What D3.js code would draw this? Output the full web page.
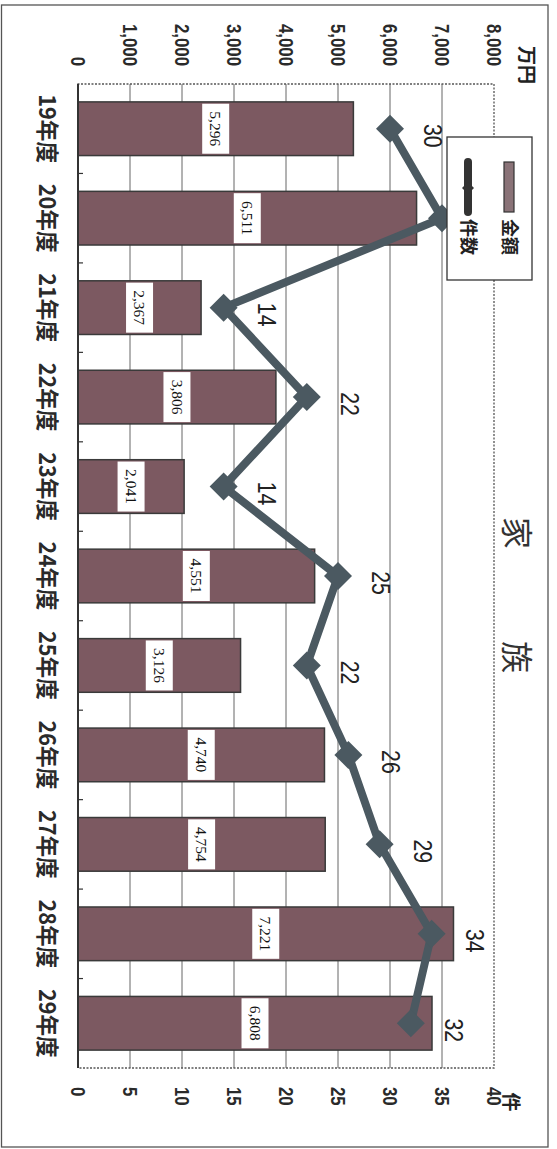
<!DOCTYPE html>
<html><head><meta charset="utf-8">
<script src="https://cdn.jsdelivr.net/npm/d3@7"></script>
<style>
html,body{margin:0;padding:0;background:#fff;}
svg{display:block;}
</style></head>
<body>
<svg id="chart" width="557" height="1149"></svg>
<script>
const categories = ["19年度","20年度","21年度","22年度","23年度","24年度","25年度","26年度","27年度","28年度","29年度"];
const amounts = [5296, 6511, 2367, 3806, 2041, 4551, 3126, 4740, 4754, 7221, 6808];
const counts = [30, 35, 14, 22, 14, 25, 22, 26, 29, 34, 32];
const amountTicks = [0,1000,2000,3000,4000,5000,6000,7000,8000];
const countTicks = [0,5,10,15,20,25,30,35,40];
const seriesNames = ["金額","件数"];
const titleChars = ["家","族"];
const amountUnit = "万円";
const countUnit = "件";

const BAR = "#7c5961", LINE = "#4b5961", INK = "#222";
const svg = d3.select("#chart");

// outer scan frame
svg.append("rect").attr("x",1.5).attr("y",5).attr("width",546.5).attr("height",1142)
  .attr("fill","none").attr("stroke","#555").attr("stroke-width",1.3);

// chart drawn unrotated (1149 x 557), then rotated 90° clockwise
const g = svg.append("g").attr("transform","translate(557,0) rotate(90)");

const L = 84, R = 1068, T = 63, B = 479;
const x = d3.scaleBand().domain(categories).range([L,R]).paddingInner(0.4).paddingOuter(0.2);
const yA = d3.scaleLinear().domain([0,8000]).range([B,T]);
const yC = d3.scaleLinear().domain([0,40]).range([B,T]);

function squeeze(sel,k){
  sel.each(function(){
    const w = this.getComputedTextLength();
    this.setAttribute("textLength", w*k);
    this.setAttribute("lengthAdjust","spacingAndGlyphs");
  });
}

// gridlines
g.append("g").selectAll("line").data(amountTicks.filter(d=>d>0 && d<8000)).join("line")
  .attr("x1",L).attr("x2",R).attr("y1",d=>yA(d)).attr("y2",d=>yA(d))
  .attr("stroke","#666").attr("stroke-width",1);

// plot border (dotted)
g.append("rect").attr("x",L).attr("y",T).attr("width",R-L).attr("height",B-T)
  .attr("fill","none").attr("stroke","#555").attr("stroke-width",1.3).attr("stroke-dasharray","2,1.5");

// bars
g.append("g").selectAll("rect").data(categories).join("rect")
  .attr("x",d=>x(d)).attr("width",x.bandwidth())
  .attr("y",(d,i)=>yA(amounts[i])).attr("height",(d,i)=>B-yA(amounts[i]))
  .attr("fill",BAR).attr("stroke","#3a3a3a").attr("stroke-width",1.5);

// bar value labels (white boxes)
const bl = g.append("g").selectAll("g").data(categories).join("g")
  .attr("transform",(d,i)=>`translate(${x(d)+x.bandwidth()/2},${yA(amounts[i]/2)})`);
bl.append("rect").attr("x",-25).attr("y",-13.5).attr("width",50).attr("height",27).attr("fill","#fff");
bl.append("text").attr("text-anchor","middle").attr("dy","0.35em")
  .attr("font-family","'Liberation Serif','Times New Roman',serif").attr("font-size",15.5).attr("fill","#111")
  .text((d,i)=>d3.format(",")(amounts[i]));

// category axis line
g.append("line").attr("x1",L).attr("x2",R).attr("y1",B).attr("y2",B).attr("stroke","#333").attr("stroke-width",2);
// boundary ticks (inward)
const step = x.step();
g.append("g").selectAll("line").data(categories.slice(1)).join("line")
  .attr("x1",d=>x(d)-x.paddingInner()*step/2).attr("x2",d=>x(d)-x.paddingInner()*step/2)
  .attr("y1",B).attr("y2",B-5).attr("stroke","#333").attr("stroke-width",1.2);

// category labels
const ax = g.append("g").attr("transform",`translate(0,${B})`)
  .call(d3.axisBottom(x).tickSize(0).tickPadding(0));
ax.select(".domain").remove();
ax.selectAll("text").attr("y",31).attr("dy","0.36em")
  .attr("font-family","'Noto Sans CJK JP','Noto Sans',sans-serif").attr("font-weight","bold")
  .attr("font-size",23).attr("fill","#2a2a2a");
squeeze(ax.selectAll("text"),0.94);

// left axis (amount)
const la = g.append("g").attr("transform",`translate(${L},0)`)
  .call(d3.axisLeft(yA).tickValues(amountTicks).tickFormat(d3.format(",")).tickSize(0).tickPadding(18));
la.select(".domain").remove();
la.selectAll("text").attr("font-family","'Liberation Sans',Arial,sans-serif").attr("font-weight","bold")
  .attr("font-size",21).attr("fill","#2a2a2a");
squeeze(la.selectAll("text"),0.8);

// right axis (count)
const ra = g.append("g").attr("transform",`translate(${R},0)`)
  .call(d3.axisRight(yC).tickValues(countTicks).tickSize(0).tickPadding(19));
ra.select(".domain").remove();
ra.selectAll("text").attr("font-family","'Liberation Sans',Arial,sans-serif").attr("font-weight","bold")
  .attr("font-size",21).attr("fill","#2a2a2a");
squeeze(ra.selectAll("text"),0.8);

// units
g.append("text").attr("x",65).attr("y",30).attr("dy","0.36em").attr("text-anchor","middle")
  .attr("font-family","'Noto Sans CJK JP',sans-serif").attr("font-weight","bold").attr("font-size",19).attr("fill",INK)
  .text(amountUnit);
g.append("text").attr("x",1102).attr("y",46).attr("dy","0.36em").attr("text-anchor","middle")
  .attr("font-family","'Noto Sans CJK JP',sans-serif").attr("font-weight","bold").attr("font-size",19).attr("fill",INK)
  .text(countUnit);

// title
const tt = g.append("text").attr("y",40).attr("dy","0.36em").attr("text-anchor","middle")
  .attr("font-family","'Noto Sans CJK JP',sans-serif").attr("font-weight",400).attr("font-size",32).attr("fill","#333");
tt.selectAll("tspan").data(titleChars).join("tspan").attr("x",(d,i)=>533+i*124).text(d=>d);

// line series
const cx = d => x(d)+x.bandwidth()/2;
const lineGen = d3.line().x((d,i)=>cx(categories[i])).y(d=>yC(d));
g.append("path").datum(counts).attr("d",lineGen).attr("fill","none")
  .attr("stroke",LINE).attr("stroke-width",8).attr("stroke-linejoin","round");
const diamond = s => `M0,${-s}L${s},0L0,${s}L${-s},0Z`;
g.append("g").selectAll("path").data(counts).join("path")
  .attr("transform",(d,i)=>`translate(${cx(categories[i])},${yC(d)})`)
  .attr("d",diamond(14)).attr("fill",LINE);

// count labels
const cl = g.append("g").selectAll("text").data(counts).join("text")
  .attr("x",(d,i)=>cx(categories[i])+7).attr("y",d=>yC(d)-43).attr("dy","0.36em")
  .attr("text-anchor","middle").attr("font-family","'Liberation Sans',Arial,sans-serif")
  .attr("font-size",25).attr("fill",INK).text(d=>d);
squeeze(cl,0.85);

// legend
const lg = g.append("g").attr("transform","translate(137,25)");
lg.append("rect").attr("width",143).attr("height",85).attr("fill","#fff").attr("stroke","#333").attr("stroke-width",1.3);
lg.append("rect").attr("x",25).attr("y",18).attr("width",50).attr("height",10)
  .attr("fill","#8a7378").attr("stroke","#333").attr("stroke-width",1.2);
lg.append("line").attr("x1",25).attr("x2",75).attr("y1",64).attr("y2",64)
  .attr("stroke","#333").attr("stroke-width",8).attr("stroke-linecap","round");
lg.append("path").attr("transform","translate(51,64)").attr("d",diamond(6)).attr("fill","#333");
lg.selectAll("text.lt").data(seriesNames).join("text").attr("class","lt")
  .attr("x",82).attr("y",(d,i)=>i===0?23:64).attr("dy","0.36em")
  .attr("font-family","'Noto Sans CJK JP',sans-serif").attr("font-weight","bold").attr("font-size",18).attr("fill",INK)
  .text(d=>d);
</script>
</body></html>
